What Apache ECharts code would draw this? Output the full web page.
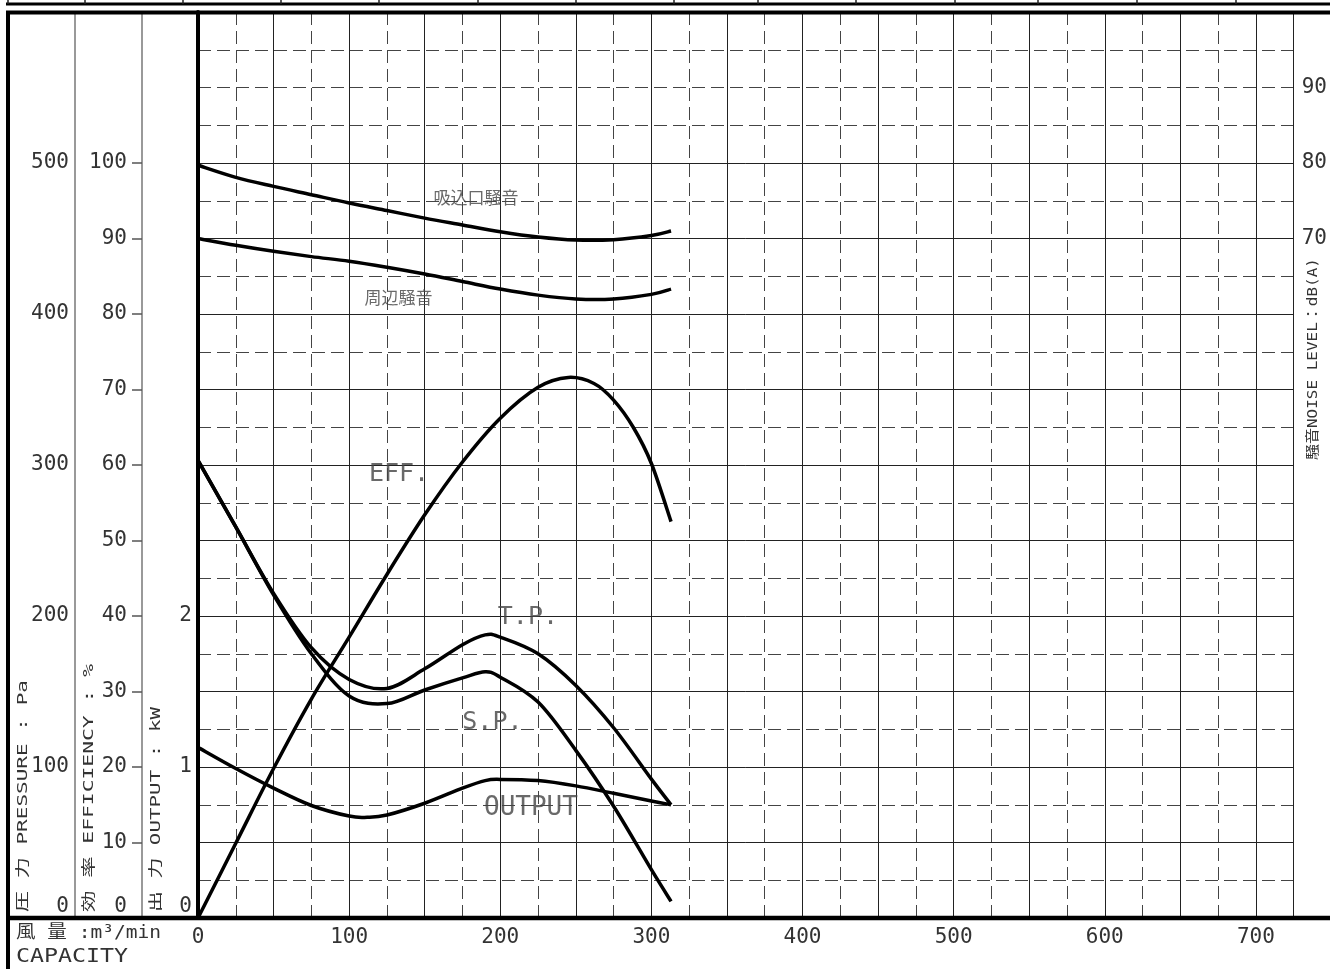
<!DOCTYPE html>
<html><head><meta charset="utf-8">
<script src="https://cdn.jsdelivr.net/npm/echarts@6/dist/echarts.min.js"></script>
<style>html,body{margin:0;padding:0;background:#fff}#c{width:1330px;height:969px}</style>
</head><body><div id="c"></div>
<script>
// ---- tick labels ----
const capacityTicks = [0,100,200,300,400,500,600,700];
const pressureTicks = [0,100,200,300,400,500];
const efficiencyTicks = [0,10,20,30,40,50,60,70,80,90,100];
const efficiencyTickMarks = [10,20,30,40,50,60,70,80,90,100];
const outputTicks = [0,1,2];
const noiseTicks = [70,80,90];

// ---- series values: [capacity m3/min, value] ----
const inletNoise = [[0,79.7],[25,78.1],[50,76.9],[75,75.8],[100,74.7],[125,73.7],[150,72.7],[175,71.8],[200,70.9],[225,70.2],[250,69.8],[275,69.85],[300,70.4],[313,71.0]];
const ambientNoise = [[0,70.0],[25,69.1],[50,68.3],[75,67.6],[100,67.0],[125,66.2],[150,65.3],[175,64.3],[200,63.3],[225,62.5],[250,62.0],[275,62.0],[300,62.6],[313,63.3]];
const efficiency = [[0,0],[25,9.9],[50,19.8],[75,29.0],[100,37.2],[125,45.5],[150,53.4],[175,60.4],[200,66.2],[225,70.3],[245,71.6],[262,70.8],[275,68.6],[288,65.0],[300,60.2],[313,52.5]];
const totalPressure = [[0,303],[25,259],[50,215],[75,179],[100,158],[125,152],[150,165],[175,181],[190,187.5],[200,186],[225,175],[250,154],[275,126],[300,92],[313,75]];
const staticPressure = [[0,303],[25,259],[50,214],[75,175],[100,147],[125,142],[150,151],[175,159],[190,163],[200,159.5],[225,143],[250,111],[275,74],[300,32],[313,11]];
const outputPower = [[0,1.13],[25,0.99],[50,0.86],[75,0.745],[100,0.675],[112,0.667],[125,0.682],[150,0.76],[175,0.86],[190,0.91],[200,0.918],[225,0.91],[250,0.875],[275,0.826],[300,0.775],[313,0.75]];

// curve captions: [name, capacity, value]
const captions = [
  ['吸込口騒音', 184, 75.4],
  ['周辺騒音', 132.6, 62.2],
  ['EFF.', 133, 58.8],
  ['T.P.', 218.3, 199],
  ['S.P.', 194.8, 129.5],
  ['OUTPUT', 220.3, 0.725]
];

const MONO = "'DejaVu Sans Mono','Noto Sans CJK JP',monospace";
const CJK = "'Noto Sans CJK JP','DejaVu Sans',sans-serif";
const TXT = '#333';

const chart = echarts.init(document.getElementById('c'), null, {renderer: 'canvas'});

function fit(text, size, target){
  const ctx = document.createElement('canvas').getContext('2d');
  ctx.font = size + 'px ' + MONO;
  return target / ctx.measureText(text).width;
}
function title(text, size, x, y, len, rot){
  return {type:'text', x:x, y:y, rotation: rot ? Math.PI/2 : 0, scaleX: fit(text, size, len), silent:true, z:20,
    style:{text:text, font: size + 'px ' + MONO, fill:TXT, align:'left', verticalAlign:'middle'}};
}
function hline(x1,x2,y,w,c){ return {type:'line', silent:true, z:30, shape:{x1:x1,y1:y,x2:x2,y2:y}, style:{stroke:c||'#000', lineWidth:w}}; }
function vline(x,y1,y2,w,c){ return {type:'line', silent:true, z:30, shape:{x1:x,y1:y1,x2:x,y2:y2}, style:{stroke:c||'#000', lineWidth:w}}; }

const labelFont = {fontFamily: MONO, fontSize: 21, color: TXT};
function only(list){ return function(v){ return list.indexOf(v) >= 0 ? String(v) : ''; }; }
function zeroUp(list){ return function(v){ if (list.indexOf(v) < 0) return ''; return v === 0 ? '{z|0}' : String(v); }; }
const zeroRich = {z:{padding:[0,0,22,0], fontFamily:MONO, fontSize:21, color:TXT}};

// smooth curve (Catmull-Rom through the data points, mapped by the axes)
function curve(name, data, yIdx){
  return {
    name: name, type:'custom', xAxisIndex:0, yAxisIndex:yIdx, data:data, z:5, silent:true,
    encode:{x:0, y:1},
    renderItem: function(params, api){
      if (params.dataIndex !== 0) return null;
      const p = data.map(function(d){ return api.coord(d); });
      let d = 'M' + p[0][0].toFixed(2) + ' ' + p[0][1].toFixed(2);
      for (let i = 0; i < p.length - 1; i++) {
        const p0 = p[i-1] || p[i], p1 = p[i], p2 = p[i+1], p3 = p[i+2] || p[i+1];
        const c1x = p1[0] + (p2[0]-p0[0])/6, c1y = p1[1] + (p2[1]-p0[1])/6;
        const c2x = p2[0] - (p3[0]-p1[0])/6, c2y = p2[1] - (p3[1]-p1[1])/6;
        d += ' C' + c1x.toFixed(2) + ' ' + c1y.toFixed(2) + ' ' + c2x.toFixed(2) + ' ' + c2y.toFixed(2) + ' ' + p2[0].toFixed(2) + ' ' + p2[1].toFixed(2);
      }
      return {type:'path', shape:{pathData:d}, style:{fill:null, stroke:'#000', lineWidth:3.5, lineJoin:'round', lineCap:'butt'}};
    }
  };
}
function caption(c, yIdx, size, cjk){
  return {type:'scatter', xAxisIndex:0, yAxisIndex:yIdx, symbolSize:0, silent:true, z:6,
    data:[[c[1], c[2]]],
    label:{show:true, position:'inside', formatter:c[0], fontFamily: cjk ? CJK : MONO, fontSize:size, color:'#444'}};
}

const topSeps = [8,85,183,281,379,478,576,674,758,856,955,1038,1137,1236];

const option = {
  animation:false,
  backgroundColor:'#fff',
  grid:{left:198, right:36, top:12, bottom:51, containLabel:false},
  xAxis:[
    {type:'value', min:0, max:725, interval:50, z:3,
      axisLine:{show:true, onZero:false, lineStyle:{color:'#000', width:4}},
      axisTick:{show:false},
      axisLabel:Object.assign({show:true, margin:9, customValues:capacityTicks, formatter:only(capacityTicks)}, labelFont),
      splitLine:{show:true, lineStyle:{color:'#222', width:1}}},
    {type:'value', min:0, max:725, interval:25, z:1,
      axisLine:{show:false}, axisTick:{show:false}, axisLabel:{show:false},
      splitLine:{show:true, lineStyle:{color:'#444', width:1, type:[13,6]}}}
  ],
  yAxis:[
    {type:'value', position:'left', offset:56, min:0, max:120, interval:10, z:3,
      axisLine:{show:true, onZero:false, lineStyle:{color:'#777', width:1.5}},
      axisTick:{show:true, length:10, customValues:efficiencyTickMarks, lineStyle:{color:'#555', width:1.5}},
      axisLabel:Object.assign({margin:15, customValues:efficiencyTicks, formatter:zeroUp(efficiencyTicks), rich:zeroRich}, labelFont),
      splitLine:{show:true, lineStyle:{color:'#222', width:1}}},
    {type:'value', position:'left', offset:123, min:0, max:600, interval:100,
      axisLine:{show:true, onZero:false, lineStyle:{color:'#777', width:1.5}},
      axisTick:{show:false},
      axisLabel:Object.assign({margin:6, customValues:pressureTicks, formatter:zeroUp(pressureTicks), rich:zeroRich}, labelFont),
      splitLine:{show:false}},
    {type:'value', position:'left', offset:0, min:0, max:6, interval:1, z:4,
      axisLine:{show:true, onZero:false, lineStyle:{color:'#000', width:4}},
      axisTick:{show:false},
      axisLabel:Object.assign({margin:6, customValues:outputTicks, formatter:zeroUp(outputTicks), rich:zeroRich}, labelFont),
      splitLine:{show:false}},
    {type:'value', position:'right', offset:0, min:-20, max:100, interval:10,
      axisLine:{show:true, onZero:false, lineStyle:{color:'#222', width:1}},
      axisTick:{show:false},
      axisLabel:Object.assign({margin:8, customValues:noiseTicks, formatter:only(noiseTicks)}, labelFont),
      splitLine:{show:false}},
    {type:'value', position:'left', offset:0, min:0, max:120, interval:5, z:1,
      axisLine:{show:false}, axisTick:{show:false}, axisLabel:{show:false},
      splitLine:{show:true, lineStyle:{color:'#444', width:1, type:[13,6]}}}
  ],
  series:[
    curve('吸込口騒音', inletNoise, 3),
    curve('周辺騒音', ambientNoise, 3),
    curve('EFF.', efficiency, 0),
    curve('T.P.', totalPressure, 1),
    curve('S.P.', staticPressure, 1),
    curve('OUTPUT', outputPower, 2),
    caption(captions[0], 3, 17, true),
    caption(captions[1], 3, 17, true),
    caption(captions[2], 0, 25, false),
    caption(captions[3], 1, 25, false),
    caption(captions[4], 1, 25, false),
    caption(captions[5], 2, 26, false)
  ],
  graphic:[].concat(
    [hline(6,1330,4,3), hline(6,1330,12.5,4), vline(8,12,969,4), hline(6,1330,918,4.5), vline(198,12,918,4)],
    topSeps.map(function(x){ return vline(x,0,4,1.5,'#222'); }),
    [
      title('圧 力 PRESSURE : Pa', 14, 23, 912, 232, true),
      title('効 率 EFFICIENCY : %', 14, 89, 912, 248, true),
      title('出 力 OUTPUT : kW', 14, 156, 912, 205, true),
      title('騒音NOISE LEVEL：dB(A)', 14, 1313, 460, 202, true),
      title('風 量 :m³/min', 18, 16, 933, 145, false),
      title('CAPACITY', 20, 16, 957, 112, false)
    ]
  )
};
chart.setOption(option);
</script>
</body></html>
